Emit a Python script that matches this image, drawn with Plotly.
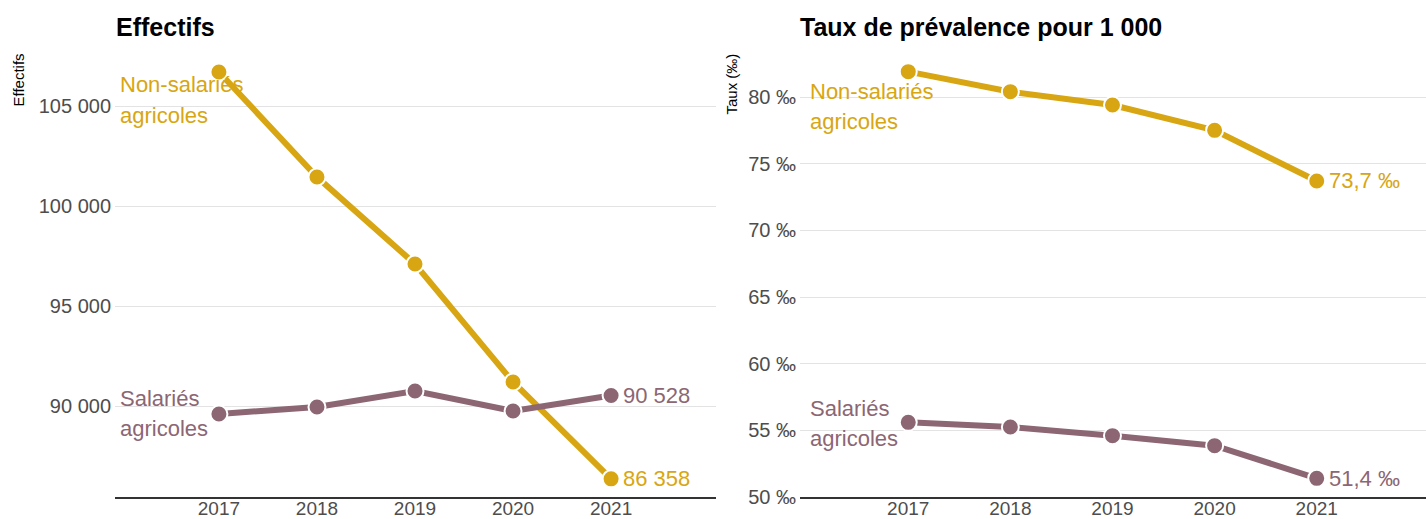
import plotly.graph_objects as go

years = [2017, 2018, 2019, 2020, 2021]
eff_non_salaries = [106700, 101450, 97100, 91200, 86358]
eff_salaries = [89600, 89950, 90750, 89750, 90528]
taux_non_salaries = [81.9, 80.4, 79.4, 77.5, 73.7]
taux_salaries = [55.6, 55.25, 54.6, 53.85, 51.4]

eff_tickvals = [90000, 95000, 100000, 105000]
eff_ticktext = ["90 000", "95 000", "100 000", "105 000"]
taux_tickvals = [50, 55, 60, 65, 70, 75, 80]
taux_ticktext = ["50 ‰", "55 ‰", "60 ‰", "65 ‰", "70 ‰", "75 ‰", "80 ‰"]

GOLD = "#D8A612"
MAUVE = "#8C6673"
FONT = "Liberation Sans, Arial, sans-serif"

fig = go.Figure()

def add_series(x, y, color, xa, ya):
    fig.add_trace(go.Scatter(
        x=x, y=y, mode="lines+markers", xaxis=xa, yaxis=ya,
        line=dict(color=color, width=6),
        marker=dict(size=17, color=color, line=dict(color="white", width=2)),
        showlegend=False, hoverinfo="skip"))

add_series(years, eff_non_salaries, GOLD, "x", "y")
add_series(years, eff_salaries, MAUVE, "x", "y")
add_series(years, taux_non_salaries, GOLD, "x2", "y2")
add_series(years, taux_salaries, MAUVE, "x2", "y2")

ydom = [22 / 519, 464 / 519]
xcommon = dict(range=[2015.94, 2022.07], tickvals=years, ticktext=[str(y) for y in years],
               showgrid=False, zeroline=False, showline=True, linecolor="#333333", linewidth=1.5,
               ticks="", tickfont=dict(size=19, color="#4d4d4d", family=FONT), fixedrange=True,
               ticklabelstandoff=-7)
ycommon = dict(showgrid=True, gridcolor="#e3e3e3", gridwidth=1, zeroline=False, showline=False,
               ticks="", tickfont=dict(size=20, color="#4d4d4d", family=FONT), ticklabelstandoff=3)

fig.update_layout(
    width=1426, height=519,
    margin=dict(l=0, r=0, t=0, b=0, autoexpand=False),
    paper_bgcolor="white", plot_bgcolor="white",
    font=dict(family=FONT),
    xaxis=dict(domain=[115 / 1426, 716 / 1426], anchor="y", **xcommon),
    yaxis=dict(domain=ydom, anchor="x", range=[85450, 107550],
               tickvals=eff_tickvals, ticktext=eff_ticktext, **ycommon),
    xaxis2=dict(domain=[800 / 1426, 1.0], anchor="y2", **xcommon),
    yaxis2=dict(domain=ydom, anchor="x2", range=[50, 83.15],
                tickvals=taux_tickvals, ticktext=taux_ticktext, **ycommon),
)

ann = []
# Titles
ann.append(dict(text="<b>Effectifs</b>", x=114 / 1426, y=1 - 11 / 519, xref="paper", yref="paper",
                xanchor="left", yanchor="top", showarrow=False,
                font=dict(size=25, color="black", family=FONT)))
ann.append(dict(text="<b>Taux de prévalence pour 1 000</b>", x=798 / 1426, y=1 - 11 / 519,
                xref="paper", yref="paper", xanchor="left", yanchor="top", showarrow=False,
                font=dict(size=25, color="black", family=FONT)))
# Axis titles (rotated)
ann.append(dict(text="Effectifs", x=18 / 1426, y=1 - 52 / 519, xref="paper", yref="paper",
                xanchor="center", yanchor="top", textangle=-90, showarrow=False,
                font=dict(size=15, color="black", family=FONT)))
ann.append(dict(text="Taux (‰)", x=731 / 1426, y=1 - 52 / 519, xref="paper", yref="paper",
                xanchor="center", yanchor="top", textangle=-90, showarrow=False,
                font=dict(size=15, color="black", family=FONT)))

# Series labels
def lab(text, xd, yd, color, xa, ya):
    ann.append(dict(text=text, x=xd, y=yd, xref=xa + " domain", yref=ya + " domain",
                    xanchor="left", yanchor="middle", showarrow=False,
                    font=dict(size=22, color=color, family=FONT)))

lab("Non-salariés", 3 / 601, (497 - 85) / 442, GOLD, "x", "y")
lab("agricoles", 3 / 601, (497 - 116) / 442, GOLD, "x", "y")
lab("Salariés", 3 / 601, (497 - 398) / 442, MAUVE, "x", "y")
lab("agricoles", 3 / 601, (497 - 428) / 442, MAUVE, "x", "y")
lab("Non-salariés", 8 / 626, (497 - 91) / 442, GOLD, "x2", "y2")
lab("agricoles", 8 / 626, (497 - 121) / 442, GOLD, "x2", "y2")
lab("Salariés", 8 / 626, (497 - 408) / 442, MAUVE, "x2", "y2")
lab("agricoles", 8 / 626, (497 - 438) / 442, MAUVE, "x2", "y2")

# End labels
def endlab(text, y, color, xa, ya):
    ann.append(dict(text=text, x=years[-1], y=y, xref=xa, yref=ya, xanchor="left",
                    yanchor="middle", xshift=10, showarrow=False,
                    font=dict(size=22, color=color, family=FONT)))

endlab("90 528", eff_salaries[-1], MAUVE, "x", "y")
endlab("86 358", eff_non_salaries[-1], GOLD, "x", "y")
endlab("73,7 ‰", taux_non_salaries[-1], GOLD, "x2", "y2")
endlab("51,4 ‰", taux_salaries[-1], MAUVE, "x2", "y2")

fig.update_layout(annotations=ann)
fig.write_html("out.html", config={"displayModeBar": False},
               post_script="document.body.style.margin='0px';")
